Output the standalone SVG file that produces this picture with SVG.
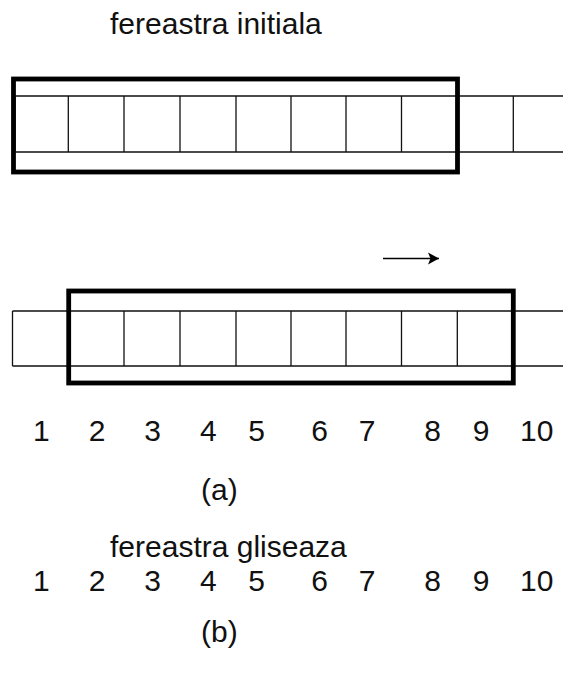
<svg xmlns="http://www.w3.org/2000/svg" width="563" height="682" viewBox="0 0 563 682">
  <style>
    .cell { fill: none; stroke: #111; stroke-width: 1.3; }
    .win { fill: none; stroke: #000; stroke-width: 4.8; }
    .lbl { font-family: "Liberation Sans", Arial, sans-serif; font-size: 30px; fill: #111; }
    .num { font-family: "Liberation Sans", Arial, sans-serif; font-size: 30px; fill: #111; text-anchor: middle; }
  </style>
  <defs>
    <marker id="head" markerWidth="12" markerHeight="14" refX="11" refY="6.5" orient="auto" markerUnits="userSpaceOnUse">
      <path d="M0,0.5 L11,6.5 L0,12.5 L2.5,6.5 Z" fill="#000"/>
    </marker>
  </defs>

  <rect width="563" height="682" fill="#fff"/>

  <!-- initial window: buffer row with frame over first eight slots -->
  <g id="row-initial">
    <path class="cell" d="M15,96 H563 M15,152 H563
      M15,96 V152 M68.3,96 V152 M124,96 V152 M180,96 V152 M236,96 V152
      M291,96 V152 M346,96 V152 M401.5,96 V152 M457,96 V152 M513.3,96 V152"/>
    <rect class="win" x="13.5" y="79" width="444" height="93"/>
  </g>

  <!-- sliding window: frame moved one slot to the right -->
  <g id="row-sliding">
    <path class="cell" d="M12.5,311 H563 M12.5,366 H563
      M12.5,311 V366 M68.5,311 V366 M124,311 V366 M180,311 V366 M236,311 V366
      M291,311 V366 M346,311 V366 M401.5,311 V366 M457.3,311 V366 M513,311 V366"/>
    <rect class="win" x="68.7" y="291" width="444.6" height="92"/>
  </g>

  <g id="connectors">
    <line x1="383" y1="258.5" x2="439" y2="258.5" stroke="#000" stroke-width="1.6" marker-end="url(#head)"/>
  </g>

  <g id="title-initial">
    <text class="lbl" x="110" y="34">fereastra initiala</text>
  </g>

  <g id="numbers-a">
    <text class="num" x="41.3" y="441">1</text>
    <text class="num" x="97" y="441">2</text>
    <text class="num" x="152.6" y="441">3</text>
    <text class="num" x="208.3" y="441">4</text>
    <text class="num" x="256.7" y="441">5</text>
    <text class="num" x="319.6" y="441">6</text>
    <text class="num" x="367" y="441">7</text>
    <text class="num" x="432.7" y="441">8</text>
    <text class="num" x="481.1" y="441">9</text>
    <text class="num" x="536.8" y="441">10</text>
  </g>

  <g id="caption-a">
    <text class="lbl" x="201" y="500">(a)</text>
  </g>

  <g id="title-sliding">
    <text class="lbl" x="110" y="557">fereastra gliseaza</text>
  </g>

  <g id="numbers-b">
    <text class="num" x="41.3" y="591">1</text>
    <text class="num" x="97" y="591">2</text>
    <text class="num" x="152.6" y="591">3</text>
    <text class="num" x="208.3" y="591">4</text>
    <text class="num" x="256.7" y="591">5</text>
    <text class="num" x="319.6" y="591">6</text>
    <text class="num" x="367" y="591">7</text>
    <text class="num" x="432.7" y="591">8</text>
    <text class="num" x="481.1" y="591">9</text>
    <text class="num" x="536.8" y="591">10</text>
  </g>

  <g id="caption-b">
    <text class="lbl" x="201" y="642">(b)</text>
  </g>
</svg>
